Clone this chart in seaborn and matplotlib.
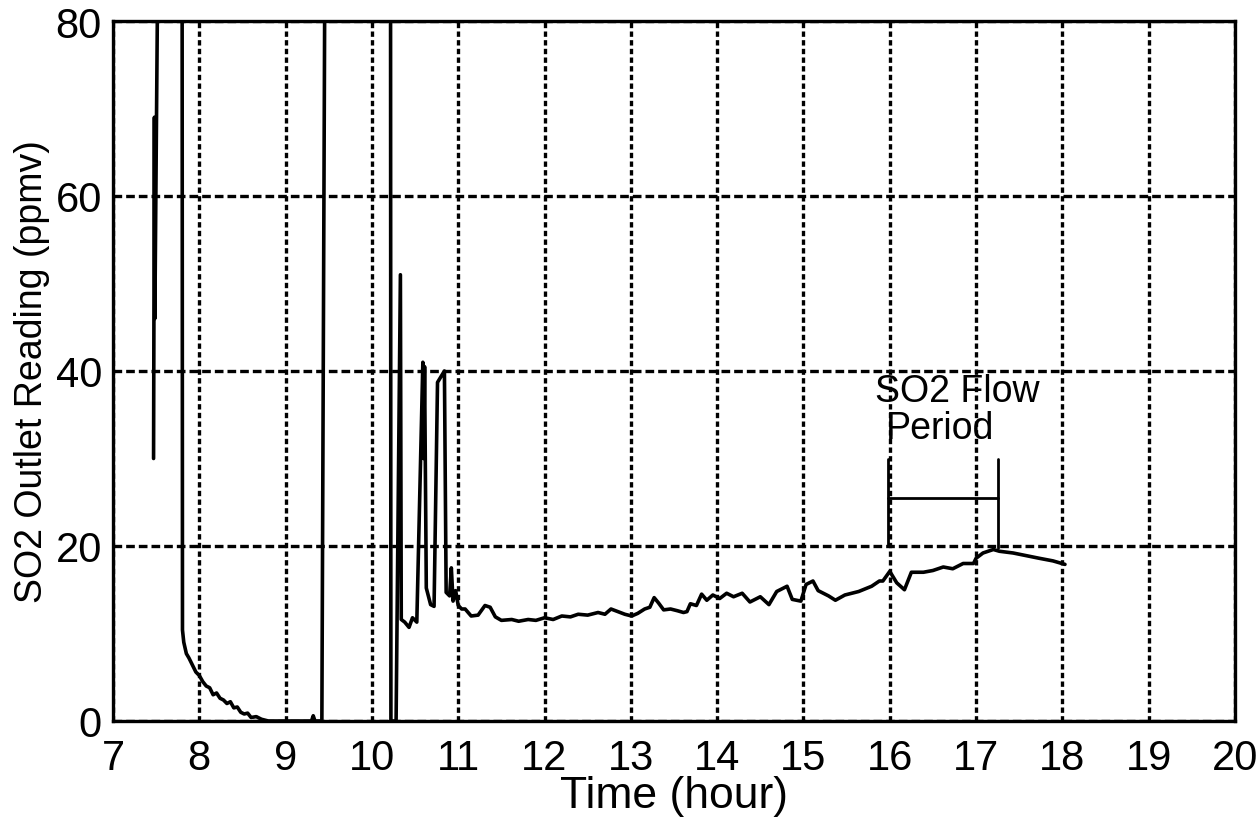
import matplotlib
matplotlib.use("Agg")
import matplotlib.pyplot as plt
import pandas as pd
import seaborn as sns

# ---- data (values > 80 are off-scale readings) ----
hours = [7.47, 7.475, 7.48, 7.485, 7.53,
         7.80, 7.805, 7.82, 7.85, 7.88, 7.92, 7.96, 8.00, 8.04, 8.08, 8.12,
         8.16, 8.20, 8.24, 8.28, 8.32, 8.36, 8.40, 8.44, 8.48, 8.52, 8.56,
         8.60, 8.66, 8.72, 8.80, 9.30, 9.32, 9.34, 9.42, 9.46,
         10.215, 10.22, 10.28, 10.33, 10.34, 10.38, 10.43, 10.47, 10.52,
         10.59, 10.60, 10.61, 10.63, 10.68, 10.72, 10.76, 10.84, 10.86,
         10.90, 10.92, 10.94, 10.97,
         11.00, 11.04, 11.08, 11.15, 11.23, 11.31, 11.37, 11.43, 11.50,
         11.62, 11.70, 11.81, 11.90, 12.00, 12.10, 12.20, 12.30, 12.39,
         12.50, 12.62, 12.70, 12.77, 12.85, 12.93, 13.01, 13.08, 13.16,
         13.22, 13.27, 13.32, 13.38, 13.46, 13.54, 13.61, 13.65, 13.69,
         13.76, 13.82, 13.88, 13.95, 14.03, 14.11, 14.19, 14.29, 14.38,
         14.50, 14.60, 14.69, 14.81, 14.87, 14.97, 15.03, 15.11, 15.17,
         15.29, 15.37, 15.48, 15.64, 15.79, 15.88, 15.92, 16.00, 16.08,
         16.17, 16.25, 16.39, 16.50, 16.62, 16.73, 16.85, 16.97, 17.00,
         17.08, 17.20, 17.27, 17.43, 17.58, 17.73, 17.89, 18.03]
so2_ppmv = [30.0, 48.0, 69.0, 46.0, 100.0,
            100.0, 10.4, 9.0, 7.7, 7.2, 6.4, 5.6, 5.2, 4.5, 4.0, 3.8,
            3.0, 3.2, 2.6, 2.4, 2.0, 2.2, 1.5, 1.6, 1.0, 0.8, 0.9,
            0.4, 0.5, 0.2, 0.0, 0.0, 0.6, 0.0, 0.0, 100.0,
            100.0, 0.0, 0.0, 51.0, 11.6, 11.3, 10.7, 11.8, 11.3,
            41.0, 30.0, 40.5, 15.2, 13.3, 13.1, 38.7, 40.0, 14.7,
            14.3, 17.5, 13.7, 14.9,
            13.2, 12.8, 12.8, 12.0, 12.1, 13.2, 13.0, 11.9, 11.5,
            11.6, 11.4, 11.6, 11.5, 11.8, 11.6, 12.0, 11.9, 12.2,
            12.1, 12.4, 12.2, 12.8, 12.5, 12.2, 12.0, 12.3, 12.8,
            13.0, 14.1, 13.5, 12.7, 12.8, 12.6, 12.4, 12.5, 13.4,
            13.2, 14.5, 13.8, 14.4, 14.0, 14.6, 14.2, 14.6, 13.6,
            14.2, 13.3, 14.8, 15.4, 13.9, 13.7, 15.6, 16.0, 14.9,
            14.3, 13.8, 14.4, 14.8, 15.4, 16.0, 16.0, 17.1, 15.8,
            15.0, 17.0, 17.0, 17.2, 17.6, 17.4, 18.0, 18.0, 18.6,
            19.2, 19.6, 19.4, 19.2, 18.9, 18.6, 18.3, 17.9]

x_ticks = list(range(7, 21))
y_ticks = [0, 20, 40, 60, 80]

flow_period = [15.98, 17.25]        # start / end of SO2 flow (hour)
flow_level = 25.5                   # height of the horizontal bracket
flow_left_span = [20.0, 30.0]
flow_right_span = [19.8, 30.0]
annot_line1 = "SO2 Flow"
annot_line2 = "Period"

# ---- style ----
sns.set_theme(style="white")
plt.rcParams["font.family"] = ["Liberation Sans", "DejaVu Sans"]
plt.rcParams["axes.edgecolor"] = "black"
plt.rcParams["text.color"] = "black"
plt.rcParams["axes.labelcolor"] = "black"
plt.rcParams["xtick.color"] = "black"
plt.rcParams["ytick.color"] = "black"

fig = plt.figure(figsize=(12.59, 8.37), dpi=100)
ax = fig.add_axes([113 / 1259, 115 / 837, 1122 / 1259, 700 / 837])

df = pd.DataFrame({"Time (hour)": hours, "SO2 Outlet Reading (ppmv)": so2_ppmv})
sns.lineplot(data=df, x="Time (hour)", y="SO2 Outlet Reading (ppmv)",
             sort=False, estimator=None, color="black", linewidth=2.6,
             ax=ax, zorder=3)

ax.set_xlim(7, 20)
ax.set_ylim(0, 80)
ax.set_xticks(x_ticks)
ax.set_yticks(y_ticks)

# grid: dotted verticals, dashed horizontals
ax.set_axisbelow(True)
ax.grid(False)
ax.xaxis.grid(True, color="black", linewidth=2.4, linestyle=(0, (1.6, 1.0)))
ax.yaxis.grid(True, color="black", linewidth=2.4, linestyle=(0, (2.6, 1.2)))

for s in ax.spines.values():
    s.set_visible(True)
    s.set_color("black")
    s.set_linewidth(2.4)

ax.tick_params(axis="x", direction="out", length=8, width=1.6,
               labelsize=30, pad=4, colors="black")
ax.tick_params(axis="y", direction="out", length=7, width=1.6,
               labelsize=30, pad=1, colors="black")

ax.set_xlabel("Time (hour)", fontsize=32, labelpad=-2)
ax.set_ylabel("SO2 Outlet Reading (ppmv)", fontsize=27, labelpad=4)

# SO2 flow period bracket
ax.plot(flow_period, [flow_level, flow_level], color="black", linewidth=2.0, zorder=4)
ax.plot([flow_period[0], flow_period[0]], flow_left_span, color="black", linewidth=2.0, zorder=4)
ax.plot([flow_period[1], flow_period[1]], flow_right_span, color="black", linewidth=2.0, zorder=4)

ax.text(15.83, 36.6, annot_line1, fontsize=27, va="baseline", ha="left", zorder=5)
ax.text(15.96, 32.3, annot_line2, fontsize=27, va="baseline", ha="left", zorder=5)

fig.savefig("out.png", dpi=100, facecolor="white")
